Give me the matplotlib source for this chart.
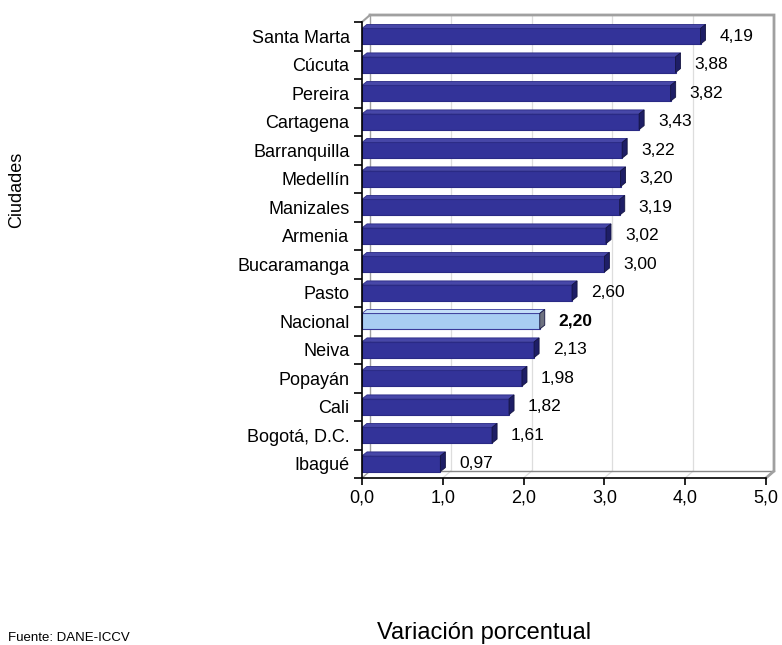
import matplotlib
matplotlib.use('Agg')
import matplotlib.pyplot as plt
from matplotlib.patches import Polygon, Rectangle
from matplotlib.lines import Line2D
from matplotlib.ticker import FixedLocator

plt.rcParams['font.family'] = ['Liberation Sans', 'DejaVu Sans']

cities = ['Santa Marta', 'Cúcuta', 'Pereira', 'Cartagena', 'Barranquilla',
          'Medellín', 'Manizales', 'Armenia', 'Bucaramanga', 'Pasto',
          'Nacional', 'Neiva', 'Popayán', 'Cali', 'Bogotá, D.C.', 'Ibagué']
values = [4.19, 3.88, 3.82, 3.43, 3.22, 3.20, 3.19, 3.02, 3.00, 2.60,
          2.20, 2.13, 1.98, 1.82, 1.61, 0.97]
highlight = 'Nacional'
xticks = [0, 1, 2, 3, 4, 5]
xtick_labels = ['0,0', '1,0', '2,0', '3,0', '4,0', '5,0']
xlabel = 'Variación porcentual'
ylabel = 'Ciudades'
source = 'Fuente: DANE-ICCV'

W, H = 782, 645
fig = plt.figure(figsize=(W / 100, H / 100), dpi=100)
L, R, B, T = 362, 766, 478, 22
ax = fig.add_axes([L / W, 1 - B / H, (R - L) / W, (B - T) / H])
n = len(cities)
ax.set_xlim(xticks[0], xticks[-1])
ax.set_ylim(n - 0.5, -0.5)
x0, x1 = xticks[0], xticks[-1]
y_top, y_bot = -0.5, n - 0.5

# pixel -> data conversion
sx = (x1 - x0) / (R - L)
sy = n / (B - T)

# back wall / floor (3D effect)
DX, DY = 8 * sx, 7 * sy
wall = Rectangle((x0 + DX, y_top - DY), (x1 - x0), n, facecolor='white',
                 edgecolor='none', zorder=0, clip_on=False)
ax.add_patch(wall)
for k in xticks[1:-1]:
    ax.add_line(Line2D([k + DX, k + DX], [y_top - DY, y_bot - DY], color='#dddddd', lw=0.9, zorder=0.5, clip_on=False))
    ax.add_line(Line2D([k, k + DX], [y_bot, y_bot - DY], color='#dddddd', lw=0.9, zorder=0.5, clip_on=False))
gray = '#a0a0a0'
ax.add_line(Line2D([x0 + DX, x0 + DX], [y_top - DY, y_bot - DY], color=gray, lw=1.0, zorder=0.6, clip_on=False))
ax.add_line(Line2D([x0 + DX, x1 + DX], [y_bot - DY, y_bot - DY], color='#888888', lw=1.0, zorder=0.6, clip_on=False))
ax.add_line(Line2D([x0, x0 + DX], [y_bot, y_bot - DY], color=gray, lw=1.0, zorder=0.6, clip_on=False))
ax.add_line(Line2D([x0, x0 + DX], [y_top, y_top - DY], color=gray, lw=1.5, zorder=0.6, clip_on=False))
ax.add_line(Line2D([x0 + DX, x1 + DX, x1 + DX, x1], [y_top - DY, y_top - DY, y_bot - DY, y_bot],
                   color=gray, lw=2.0, zorder=0.6, clip_on=False, solid_joinstyle='miter'))

# bars
h = 0.55
BX, BY = 5 * sx, 4 * sy
for i, (c, v) in enumerate(zip(cities, values)):
    if c == highlight:
        face, top, end, edge = '#a8cdf2', '#c4def8', '#6e7280', '#3a3a9a'
    else:
        face, top, end, edge = '#333399', '#4747a8', '#1e1e66', '#2a2a85'
    yt, yb = i - h / 2, i + h / 2
    ax.add_patch(Rectangle((x0, yt), v, h, facecolor=face, edgecolor=edge, lw=0.8, zorder=2))
    ax.add_patch(Polygon([(x0, yt), (v, yt), (v + BX, yt - BY), (x0 + BX, yt - BY)],
                         closed=True, facecolor=top, edgecolor=edge, lw=0.6, zorder=2))
    ax.add_patch(Polygon([(v, yt), (v + BX, yt - BY), (v + BX, yb - BY), (v, yb)],
                         closed=True, facecolor=end, edgecolor='#141440', lw=0.6, zorder=2))
    lbl = f'{v:.2f}'.replace('.', ',')
    ax.annotate(lbl, (v + BX, i), xytext=(10, 0), textcoords='offset points',
                ha='left', va='center', fontsize=12.5,
                fontweight='bold' if c == highlight else 'normal', zorder=3)

# axes styling
for s in ['top', 'right']:
    ax.spines[s].set_visible(False)
ax.spines['left'].set_color('black')
ax.spines['bottom'].set_color('black')
ax.spines['left'].set_linewidth(1.2)
ax.spines['bottom'].set_linewidth(1.2)
ax.spines['left'].set_zorder(4)
ax.spines['bottom'].set_zorder(4)
ax.set_yticks(range(n))
ax.set_yticklabels(cities, fontsize=13)
ax.yaxis.set_minor_locator(FixedLocator([b - 0.5 for b in range(n + 1)]))
ax.tick_params(axis='y', which='major', length=0, pad=9)
ax.tick_params(axis='y', which='minor', length=6, width=1.2, direction='out', color='black')
ax.set_xticks(xticks)
ax.set_xticklabels(xtick_labels, fontsize=13)
ax.tick_params(axis='x', which='major', length=5, width=1.2, direction='out', pad=3)
ax.set_facecolor('none')
ax.patch.set_visible(False)

fig.text(17 / W, 1 - 190 / H, ylabel, rotation=90, ha='center', va='center', fontsize=13)
fig.text(484 / W, 1 - 633 / H, xlabel, ha='center', va='center', fontsize=17)
fig.text(8 / W, 1 - 644 / H, source, ha='left', va='bottom', fontsize=9.5)

fig.savefig('out.png', dpi=100)
